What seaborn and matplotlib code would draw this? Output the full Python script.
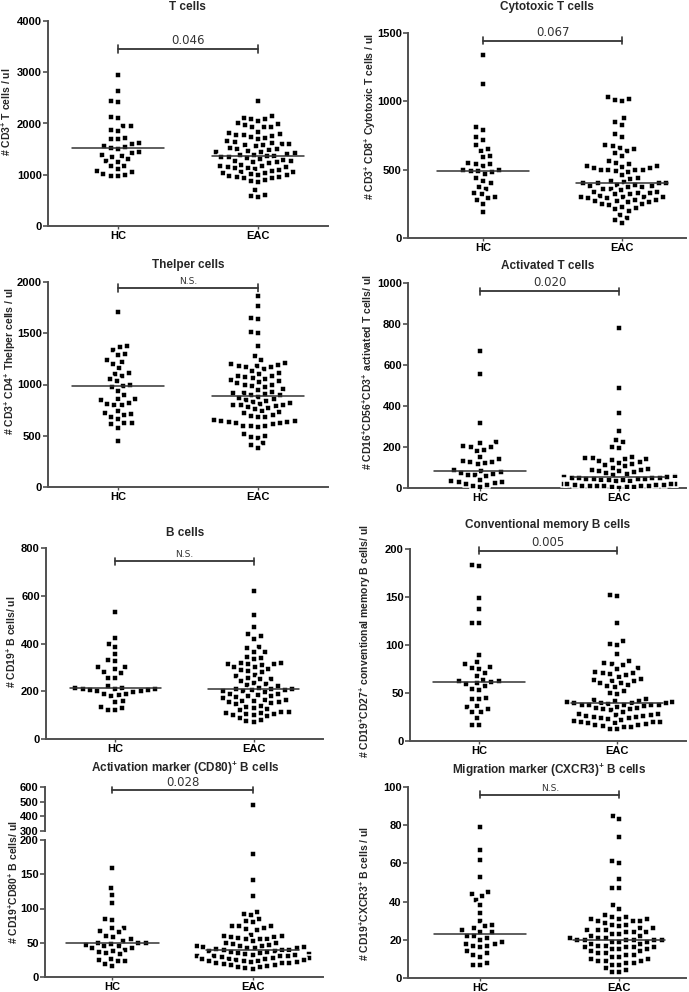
import numpy as np
import pandas as pd
import matplotlib
matplotlib.use("Agg")
import matplotlib.pyplot as plt
import seaborn as sns

sns.set_theme(style="ticks")
plt.rcParams['font.family'] = ['Liberation Sans', 'DejaVu Sans']
plt.rcParams['font.weight'] = 'bold'
plt.rcParams['axes.labelweight'] = 'bold'
plt.rcParams['axes.titleweight'] = 'bold'
plt.rcParams['mathtext.fontset'] = 'custom'
plt.rcParams['mathtext.rm'] = 'Liberation Sans:bold'
plt.rcParams['mathtext.bf'] = 'Liberation Sans:bold'
plt.rcParams['mathtext.default'] = 'bf'

groups = ["HC", "EAC"]

# ---------------- data ----------------
tcells_hc = [2940, 2640, 2430, 2410, 2130, 2100, 1960, 1950, 1880, 1850, 1710, 1700, 1690,
             1610, 1600, 1560, 1540, 1520, 1500, 1440, 1420, 1380, 1370, 1340, 1300, 1260,
             1250, 1180, 1170, 1110, 1080, 1060, 1010, 990, 980, 970]
tcells_eac = [2430, 2140, 2110, 2090, 2080, 2040, 2000, 1990, 1970, 1940, 1930, 1930, 1840,
              1820, 1800, 1780, 1770, 1760, 1740, 1720, 1700, 1650, 1640, 1620, 1600, 1600,
              1590, 1580, 1560, 1520, 1510, 1500, 1490, 1460, 1450, 1440, 1420, 1400, 1390,
              1380, 1370, 1360, 1350, 1340, 1320, 1300, 1280, 1270, 1260, 1250, 1240, 1230,
              1200, 1180, 1170, 1160, 1150, 1140, 1130, 1120, 1100, 1080, 1060, 1050, 1040,
              1030, 1010, 1000, 990, 970, 960, 950, 940, 930, 900, 870, 850, 700, 600, 580, 570]

cyto_hc = [1340, 1130, 810, 790, 740, 720, 680, 650, 640, 600, 590, 550, 540, 540, 530, 500,
           500, 490, 490, 480, 470, 440, 420, 400, 370, 360, 330, 320, 300, 290, 280, 250, 190]
cyto_eac = [1030, 1020, 1010, 1000, 880, 850, 830, 760, 740, 680, 670, 660, 650, 640, 620, 600,
            560, 550, 540, 530, 530, 520, 510, 510, 500, 500, 500, 500, 490, 480, 460, 440, 430,
            420, 410, 400, 400, 400, 400, 390, 390, 380, 380, 370, 370, 360, 360, 350, 340, 340,
            330, 330, 320, 320, 310, 300, 300, 300, 300, 290, 290, 280, 280, 270, 270, 260, 260,
            250, 250, 240, 230, 220, 210, 200, 170, 150, 130, 110]

thelp_hc = [1710, 1380, 1370, 1340, 1300, 1290, 1240, 1220, 1200, 1160, 1110, 1100, 1080, 1050,
            1030, 1000, 990, 980, 940, 900, 860, 860, 850, 820, 810, 800, 800, 740, 720, 710,
            700, 680, 660, 620, 620, 610, 580, 450]
thelp_eac = [1860, 1770, 1650, 1640, 1510, 1500, 1380, 1280, 1240, 1210, 1200, 1190, 1180, 1180,
             1170, 1170, 1150, 1130, 1110, 1100, 1080, 1080, 1070, 1060, 1050, 1040, 1030, 1020,
             1010, 1000, 1000, 990, 980, 960, 950, 930, 920, 920, 910, 900, 900, 880, 870, 860,
             850, 840, 830, 820, 810, 800, 800, 800, 790, 780, 770, 760, 740, 730, 720, 700,
             690, 680, 680, 650, 640, 640, 630, 630, 620, 620, 610, 600, 600, 600, 590, 520,
             500, 490, 480, 430, 410, 380]

act_hc = [670, 555, 315, 225, 220, 205, 200, 200, 185, 180, 150, 140, 130, 125, 125, 120, 115,
          90, 85, 80, 75, 70, 65, 65, 60, 40, 35, 30, 30, 25, 20, 15, 10, 5]
act_eac = [780, 490, 365, 280, 235, 225, 200, 195, 150, 145, 145, 140, 140, 135, 130, 125, 120,
           115, 110, 105, 100, 95, 90, 90, 85, 85, 80, 75, 70, 65, 60, 60, 60, 58, 55, 55, 55,
           52, 50, 50, 50, 48, 45, 45, 45, 42, 40, 40, 38, 35, 35, 33, 30, 30, 30, 28, 28, 25,
           25, 25, 22, 22, 20, 20, 20, 18, 18, 15, 15, 15, 12, 12, 10, 10, 8, 8, 5, 5, 3, 2]

bcell_hc = [530, 425, 400, 385, 355, 330, 325, 300, 300, 295, 280, 275, 255, 255, 220, 215, 215,
            210, 210, 210, 205, 205, 200, 200, 195, 190, 190, 185, 180, 160, 155, 135, 130, 120, 120]
bcell_eac = [620, 520, 470, 440, 430, 420, 385, 380, 365, 365, 345, 340, 335, 320, 320, 315, 315,
             315, 310, 300, 300, 295, 290, 285, 280, 270, 265, 255, 250, 250, 245, 235, 230, 225,
             220, 215, 210, 210, 210, 205, 205, 200, 200, 195, 190, 190, 185, 180, 180, 175, 170,
             165, 165, 160, 160, 155, 155, 150, 145, 140, 135, 130, 125, 120, 115, 115, 110, 110,
             105, 105, 100, 100, 95, 90, 80, 75, 70]

mem_hc = [183, 182, 149, 137, 123, 123, 90, 82, 80, 77, 76, 75, 71, 68, 64, 62, 62, 61, 60, 59,
          57, 54, 53, 45, 44, 44, 36, 35, 33, 30, 30, 24, 17, 17]
mem_eac = [152, 151, 123, 104, 101, 100, 91, 83, 81, 80, 79, 76, 75, 72, 71, 71, 70, 69, 67, 65,
           64, 63, 62, 60, 60, 58, 57, 56, 52, 50, 49, 44, 43, 42, 42, 41, 41, 40, 40, 40, 40, 39,
           38, 38, 38, 37, 37, 36, 35, 34, 34, 33, 33, 32, 30, 28, 28, 27, 27, 26, 26, 25, 25, 24,
           24, 23, 22, 21, 20, 20, 20, 19, 19, 18, 17, 17, 16, 15, 15, 13, 12]

cd80_hc = [159, 130, 120, 108, 85, 83, 72, 71, 67, 65, 60, 58, 55, 53, 50, 49, 49, 48, 47, 45, 45,
           43, 42, 40, 38, 37, 35, 33, 27, 25, 23, 23, 19, 16]
cd80_eac = [480, 179, 141, 118, 95, 92, 90, 85, 82, 80, 75, 74, 74, 72, 70, 68, 62, 60, 60, 59, 58,
            57, 56, 55, 55, 52, 50, 49, 48, 46, 45, 45, 45, 44, 44, 43, 42, 42, 41, 40, 40, 39, 38,
            38, 37, 36, 35, 35, 33, 33, 32, 32, 31, 30, 30, 30, 29, 28, 28, 27, 27, 26, 25, 25, 24,
            24, 23, 22, 22, 21, 20, 20, 19, 18, 17, 16, 15, 14, 13, 12]

cxcr3_hc = [79, 67, 62, 53, 45, 44, 43, 41, 38, 34, 30, 28, 27, 26, 25, 24, 24, 22, 22, 21, 20, 19,
            18, 18, 17, 17, 16, 14, 13, 12, 11, 8, 7, 7]
cxcr3_eac = [85, 83, 74, 61, 60, 52, 47, 47, 38, 36, 33, 32, 32, 31, 31, 31, 30, 30, 30, 29, 28, 28,
             27, 26, 26, 25, 25, 25, 24, 24, 24, 23, 23, 22, 22, 21, 21, 21, 20, 20, 20, 20, 20, 20,
             19, 19, 19, 18, 18, 17, 17, 16, 16, 16, 16, 15, 15, 15, 14, 14, 13, 13, 12, 12, 11, 11,
             10, 10, 9, 9, 9, 8, 8, 7, 7, 5, 4, 3, 3]

titles = ["T cells", "Cytotoxic T cells", "Thelper cells", "Activated T cells", "B cells",
          "Conventional memory B cells", "Activation marker (CD80)$^{+}$ B cells",
          "Migration marker (CXCR3)$^{+}$ B cells"]
ylabels = ["# CD3$^{+}$ T cells / ul",
           "# CD3$^{+}$ CD8$^{+}$ Cytotoxic T cells / ul",
           "# CD3$^{+}$ CD4$^{+}$ Thelper cells / ul",
           "# CD16$^{+}$CD56$^{+}$CD3$^{+}$ activated T cells/ ul",
           "# CD19$^{+}$ B cells/ ul",
           "# CD19$^{+}$CD27$^{+}$ conventional memory B cells/ ul",
           "# CD19$^{+}$CD80$^{+}$ B cells/ ul",
           "# CD19$^{+}$CXCR3$^{+}$ B cells / ul"]
medians = [(1520, 1360), (490, 400), (985, 890), (85, 55), (212, 210), (61, 40), (50, 40), (23, 20)]
pvalues = ["0.046", "0.067", "N.S.", "0.020", "N.S.", "0.005", "0.028", "N.S."]
bracket_y = [3450, 1445, 1940, 960, 745, 198, 577, 96]
yticks = [[0, 1000, 2000, 3000, 4000], [0, 500, 1000, 1500], [0, 500, 1000, 1500, 2000],
          [0, 200, 400, 600, 800, 1000], [0, 200, 400, 600, 800], [0, 50, 100, 150, 200],
          [0, 50, 100, 150, 200], [0, 20, 40, 60, 80, 100]]
series = [(tcells_hc, tcells_eac), (cyto_hc, cyto_eac), (thelp_hc, thelp_eac), (act_hc, act_eac),
          (bcell_hc, bcell_eac), (mem_hc, mem_eac), (cd80_hc, cd80_eac), (cxcr3_hc, cxcr3_eac)]

# layout in pixels
W, H = 689, 992
boxes = [(48, 328, 21, 226), (408, 686, 33, 238), (48, 328, 282, 487), (408, 686, 283, 488),
         (46, 323, 548, 739), (410, 686, 549, 741), (45, 323, 840, 977), (408, 686, 787, 978)]
xlims = [(-0.5, 1.5), (-0.54, 1.46), (-0.5, 1.5), (-0.52, 1.48), (-0.5, 1.5), (-0.5, 1.5),
         (-0.48, 1.5), (-0.52, 1.48)]
title_pos = [(187, 7), (547, 7), (188, 265), (548, 266), (185, 533), (548, 525), (185, 768), (549, 770)]
ylabel_pos = [(8, 112), (373, 117), (13, 361), (369, 372), (13, 642), (368, 641), (15, 882), (366, 893)]

fig = plt.figure(figsize=(W / 100, H / 100), dpi=100)
spine_col = "#505050"


def px_axes(l, r, t, b):
    return fig.add_axes([l / W, 1 - b / H, (r - l) / W, (b - t) / H])


def style(ax):
    sns.despine(ax=ax)
    for s in ["left", "bottom"]:
        ax.spines[s].set_linewidth(1.4)
        ax.spines[s].set_color(spine_col)
    ax.tick_params(axis="y", length=3.5, width=1.2, color=spine_col, labelsize=8, pad=1,
                   labelcolor="black")
    ax.tick_params(axis="x", length=2, width=1.0, color=spine_col, labelsize=8, pad=1.5,
                   labelcolor="black")


def swarm(ax, hc, eac):
    df = pd.DataFrame({"group": ["HC"] * len(hc) + ["EAC"] * len(eac),
                       "value": list(hc) + list(eac)})
    sns.swarmplot(data=df, x="group", y="value", order=groups, ax=ax, color="black",
                  marker="s", size=4.0, linewidth=1.1, edgecolor="white",
                  warn_thresh=1.0)


for i in range(8):
    l, r, t, b = boxes[i]
    ax = px_axes(l, r, t, b)
    hc, eac = series[i]
    if i == 6:
        hc_low = [v for v in hc if v <= 200]
        eac_low = [v for v in eac if v <= 200]
        swarm(ax, hc_low, eac_low)
        ax.set_ylim(0, 200)
    else:
        swarm(ax, hc, eac)
        ax.set_ylim(0, yticks[i][-1])
    ax.set_xlim(*xlims[i])
    ax.set_yticks(yticks[i])
    ax.set_xlabel("")
    ax.set_ylabel(ylabels[i], fontsize=7.5, fontweight="bold")
    lx, ly = ylabel_pos[i]
    ax.yaxis.set_label_coords((lx + 5 - l) / (r - l), (b - ly) / (b - t))
    for k, m in enumerate(medians[i]):
        ax.plot([k - 0.33, k + 0.33], [m, m], color="#333333", lw=1.1, zorder=5)
    style(ax)

    tx, ty = title_pos[i]
    fig.text(tx / W, 1 - ty / H, titles[i], ha="center", va="center", fontsize=8.5,
             fontweight="bold")

    if i == 6:
        # upper broken segment
        axu = px_axes(l, r, 787, 831)
        hi_eac = [v for v in eac if v > 200]
        dfu = pd.DataFrame({"group": ["EAC"] * len(hi_eac), "value": hi_eac})
        sns.swarmplot(data=dfu, x="group", y="value", order=groups, ax=axu, color="black",
                      marker="s", size=4.0, linewidth=1.1, edgecolor="white")
        axu.set_ylim(300, 600)
        axu.set_yticks([300, 400, 500, 600])
        axu.set_xlim(*xlims[i])
        axu.set_xlabel("")
        axu.set_ylabel("")
        sns.despine(ax=axu, bottom=True)
        axu.spines["left"].set_linewidth(1.4)
        axu.spines["left"].set_color(spine_col)
        axu.tick_params(axis="y", length=3.5, width=1.2, color=spine_col, labelsize=8, pad=1,
                        labelcolor="black")
        axu.tick_params(axis="x", bottom=False, labelbottom=False)
        axb = axu
    else:
        axb = ax

    # significance bracket
    yb = bracket_y[i]
    lo, hi = axb.get_ylim()
    tick = (hi - lo) * 0.018
    if i == 6:
        tick = (hi - lo) * 0.07
    axb.plot([0, 1], [yb, yb], color="#333333", lw=1.3, clip_on=False)
    for xx in (0, 1):
        axb.plot([xx, xx], [yb - tick, yb + tick], color="#333333", lw=1.2, clip_on=False)
    fs = 6.5 if pvalues[i] == "N.S." else 8.5
    axb.text(0.5, yb + tick * 0.5, pvalues[i], ha="center", va="bottom", fontsize=fs,
             fontweight="normal", family="DejaVu Sans", color="#333333", clip_on=False)

fig.savefig("out.png", dpi=100)
